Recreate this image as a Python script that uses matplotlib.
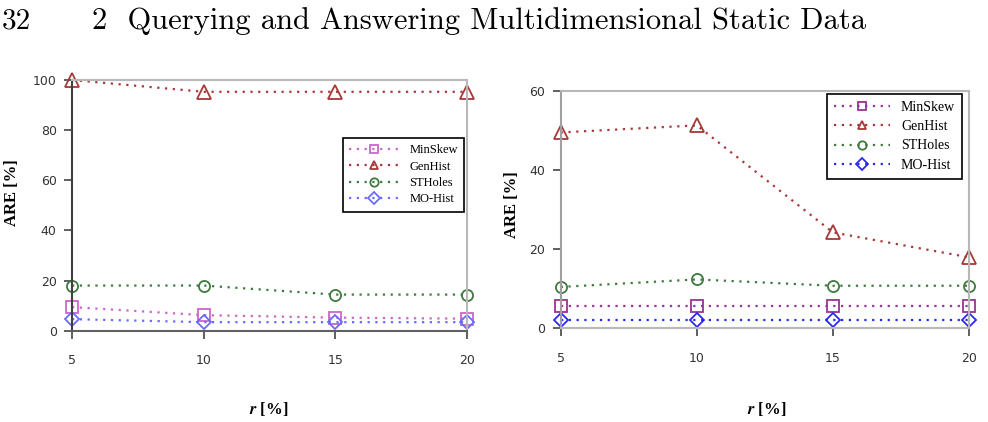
import matplotlib.pyplot as plt

##################
## data

r_values = [5, 10, 15, 20]
series_names = ['MinSkew', 'GenHist', 'STHoles', 'MO-Hist']

# left chart
left_minskew = [9.4, 6.2, 5.2, 4.8]
left_genhist = [100, 95.3, 95.3, 95.3]
left_stholes = [18.0, 18.0, 14.4, 14.4]
left_mohist = [4.6, 3.4, 3.4, 3.4]

# right chart
right_minskew = [5.6, 5.6, 5.6, 5.6]
right_genhist = [49.5, 51.3, 24.2, 17.9]
right_stholes = [10.4, 12.3, 10.7, 10.7]
right_mohist = [2.0, 2.0, 2.0, 2.0]

page_number = '32'
page_header = '2  Querying and Answering Multidimensional Static Data'
y_label = 'ARE [%]'
x_label = r'$\boldsymbol{r}$ [%]'


#######################
## general parameters

plt.rcParams['mathtext.fontset'] = 'stix'

markers = ['s', '^', 'o', 'D']
marker_sizes = [9, 10, 8, 7]
left_colors = ['#cc66cc', '#a83838', '#3e7a3e', '#6a6aff']
right_colors = ['#993399', '#a83838', '#3e7a3e', '#2a2aee']


def draw_panel(ax, values, colors, ymax, ystep, spine_left):
    for i, name in enumerate(series_names):
        ax.plot(r_values, values[i], linestyle=(0, (1, 2.5)), linewidth=1.6, color=colors[i],
                marker=markers[i], markersize=marker_sizes[i], markerfacecolor='none',
                markeredgewidth=1.3, label=name, clip_on=False)
    ax.set_xlim(5, 20)
    ax.set_ylim(0, ymax)
    ax.set_xticks(r_values)
    ax.set_yticks(range(0, ymax + 1, ystep))
    for side in ['top', 'right', 'bottom']:
        ax.spines[side].set_color('#b8b8b8')
        ax.spines[side].set_linewidth(1.5)
    ax.spines['left'].set_color(spine_left)
    ax.spines['left'].set_linewidth(1.5)
    ax.tick_params(axis='y', direction='out', length=6, width=1.2, color='#444444',
                   labelsize=9, labelcolor='#333333', pad=5)
    ax.tick_params(axis='x', direction='out', length=6, width=1.2, color='#444444',
                   labelsize=9, labelcolor='#333333', pad=11)
    for lab in ax.get_xticklabels() + ax.get_yticklabels():
        lab.set_family('DejaVu Sans')


fig = plt.figure(figsize=(9.88, 4.22), dpi=100)

ax1 = fig.add_axes([0.0729, 0.2164, 0.3998, 0.594])
draw_panel(ax1, [left_minskew, left_genhist, left_stholes, left_mohist], left_colors, 100, 20, '#404040')
ax1.spines['bottom'].set_color('#606060')

ax2 = fig.add_axes([0.5675, 0.2227, 0.4133, 0.5617])
draw_panel(ax2, [right_minskew, right_genhist, right_stholes, right_mohist], right_colors, 60, 20, '#a0a0a0')

legend_setup = [(ax1, (0.4696, 0.673), 9, 0.35), (ax2, (0.9737, 0.7773), 10, 0.45)]
for ax, anchor, fsize, spacing in legend_setup:
    leg = ax.legend(loc='upper right', bbox_to_anchor=anchor, bbox_transform=fig.transFigure,
                    borderaxespad=0, fancybox=False, edgecolor='black', framealpha=1,
                    handlelength=4.0, handletextpad=0.8, labelspacing=spacing, borderpad=0.5,
                    prop={'family': 'Liberation Serif', 'size': fsize})
    leg.get_frame().set_linewidth(1.2)
    for h in leg.get_lines():
        h.set_markersize(6)

fig.text(0.012, 0.543, y_label, rotation=90, ha='center', va='center',
         family='Liberation Serif', weight='bold', size=12)
fig.text(0.518, 0.515, y_label, rotation=90, ha='center', va='center',
         family='Liberation Serif', weight='bold', size=12)

fig.text(0.272, 0.031, x_label, ha='center', va='center',
         family='Liberation Serif', weight='bold', size=12)
fig.text(0.776, 0.031, x_label, ha='center', va='center',
         family='Liberation Serif', weight='bold', size=12)

fig.text(0.002, 0.95, page_number, ha='left', va='center', family='cmr10', size=21)
fig.text(0.093, 0.95, page_header, ha='left', va='center', family='cmr10', size=22)

plt.savefig('out.png', dpi=100)
